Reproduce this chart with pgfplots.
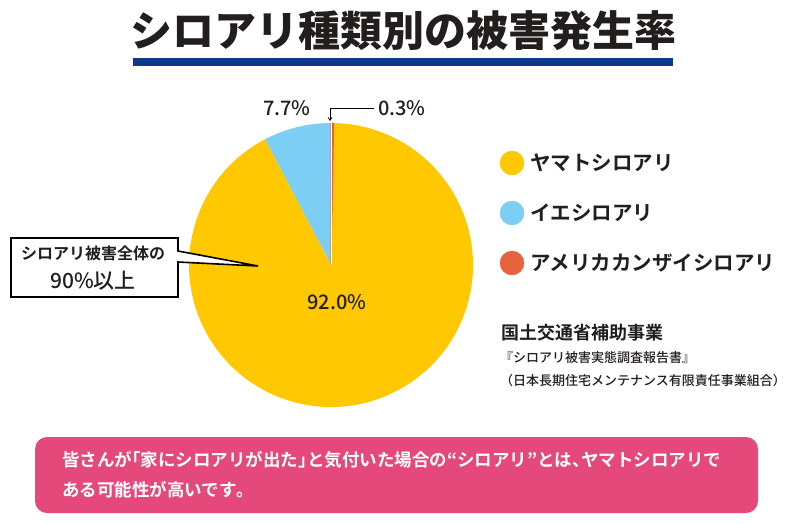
\documentclass[border=0pt]{standalone}
\usepackage{fontspec}
\usepackage{pgfplots}
\pgfplotsset{compat=1.18}
\usepackage{pgfplotstable}
\usetikzlibrary{arrows.meta}
\setmainfont{Noto Sans CJK JP}
\newfontfamily\cjk{Noto Sans CJK JP}
\newfontfamily\cjkm{Noto Sans CJK JP Medium}
\newfontfamily\cjkb{Noto Sans CJK JP Bold}
\newfontfamily\cjkbh{Noto Sans CJK JP Bold}[RawFeature=+halt]
\newfontfamily\cjkk{Noto Sans CJK JP Black}
\definecolor{cyel}{RGB}{255,200,0}
\definecolor{cblu}{RGB}{125,206,245}
\definecolor{cred}{RGB}{232,98,60}
\definecolor{cpink}{RGB}{229,72,122}
\definecolor{cnavy}{RGB}{15,55,140}
\definecolor{ctext}{RGB}{35,30,30}
\pgfplotstableread{
id share
yamato 92.0
ie 7.7
american 0.3
}\piedata
\begin{document}
\begin{tikzpicture}
\useasboundingbox (0,0) rectangle (800pt,523pt);
\pgfplotstablegetelem{0}{share}\of\piedata \let\sy\pgfplotsretval
\pgfplotstablegetelem{1}{share}\of\piedata \let\sb\pgfplotsretval
\pgfplotstablegetelem{2}{share}\of\piedata \let\sr\pgfplotsretval
\pgfmathsetmacro{\aA}{90}
\pgfmathsetmacro{\aB}{90+3.6*\sb}
\pgfmathsetmacro{\aC}{\aB+3.6*\sy}
\pgfmathsetmacro{\aD}{\aC+3.6*\sr}
\begin{axis}[at={(0,0)},anchor=south west,width=800pt,height=523pt,scale only axis,
  xmin=0,xmax=800,ymin=0,ymax=523,y dir=reverse,hide axis,clip=false]
% title
\node[font=\cjkk\fontsize{42pt}{42pt}\selectfont,text=ctext,inner sep=0pt] at (axis cs:403,31) {シロアリ種類別の被害発生率};
\fill[cnavy] (axis cs:133,58) rectangle (axis cs:673,66);
% pie
\fill[cblu] (axis cs:331,265) -- ++(\aA:142pt) arc[start angle=\aA,end angle=\aB,radius=142pt] -- cycle;
\fill[cyel] (axis cs:331,265) -- ++(\aB:142pt) arc[start angle=\aB,end angle=\aC,radius=142pt] -- cycle;
\filldraw[fill=cred,draw=cred,line width=1pt,line join=round] (axis cs:331,265) -- ++(\aC:142pt) arc[start angle=\aC,end angle=\aD,radius=142pt] -- cycle;
\draw[white,line width=0.8pt] (axis cs:331,265) -- ++(\aA:142.6pt);
% labels
\node[font=\cjkm\fontsize{20pt}{20pt}\selectfont,text=ctext] at (axis cs:287,108) {7.7\%};
\node[font=\cjkm\fontsize{20pt}{20pt}\selectfont,text=ctext] at (axis cs:402,108) {0.3\%};
\node[font=\cjkm\fontsize{20pt}{20pt}\selectfont,text=ctext] at (axis cs:337,302) {92.0\%};
\draw[black,line width=0.7pt,-{Straight Barb[length=3pt,width=4pt]}] (axis cs:374,108) -- (axis cs:330,108) -- (axis cs:330,121);
% callout
\filldraw[fill=white,draw=black,line width=1.6pt,line join=miter] (axis cs:11,238) -- (axis cs:178,238) -- (axis cs:178,251) -- (axis cs:258,266) -- (axis cs:178,262) -- (axis cs:178,297) -- (axis cs:11,297) -- cycle;
\node[font=\cjkb\fontsize{16pt}{16pt}\selectfont,text=ctext] at (axis cs:93,253) {シロアリ被害全体の};
\node[font=\cjkm\fontsize{21pt}{21pt}\selectfont,text=ctext] at (axis cs:93,281) {90\%以上};
% legend
\addplot[only marks,mark=*,mark size=12pt,color=cyel] coordinates {(512,163)};
\addplot[only marks,mark=*,mark size=12pt,color=cblu] coordinates {(512,213)};
\addplot[only marks,mark=*,mark size=12pt,color=cred] coordinates {(512,263)};
\node[anchor=west,font=\cjkb\fontsize{20.5pt}{20.5pt}\selectfont,text=ctext,inner sep=0pt] at (axis cs:530,163) {ヤマトシロアリ};
\node[anchor=west,font=\cjkb\fontsize{20.5pt}{20.5pt}\selectfont,text=ctext,inner sep=0pt] at (axis cs:530,213) {イエシロアリ};
\node[anchor=west,font=\cjkb\fontsize{20.5pt}{20.5pt}\selectfont,text=ctext,inner sep=0pt] at (axis cs:530,263) {アメリカカンザイシロアリ};
% source
\node[anchor=west,font=\cjkb\fontsize{18pt}{18pt}\selectfont,text=ctext,inner sep=0pt] at (axis cs:501,333) {国土交通省補助事業};
\node[anchor=west,font=\cjkm\fontsize{13pt}{13pt}\selectfont,text=ctext,inner sep=0pt] at (axis cs:500,358) {『シロアリ被害実態調査報告書』};
\node[anchor=west,font=\cjkm\fontsize{13pt}{13pt}\selectfont,text=ctext,inner sep=0pt] at (axis cs:500,381) {（日本長期住宅メンテナンス有限責任事業組合）};
% bottom box
\fill[cpink,rounded corners=12pt] (axis cs:35,437) rectangle (axis cs:758,513);
\node[anchor=west,font=\cjkb\fontsize{17.5pt}{17.5pt}\selectfont,text=white,inner sep=0pt] at (axis cs:62,460) {皆さんが{\cjkbh 「}家にシロアリが出た{\cjkbh 」}と気付いた場合の“シロアリ”とは{\cjkbh 、}ヤマトシロアリで};
\node[anchor=west,font=\cjkb\fontsize{17.5pt}{17.5pt}\selectfont,text=white,inner sep=0pt] at (axis cs:62,490) {ある可能性が高いです{\cjkbh 。}};
\end{axis}
\end{tikzpicture}
\end{document}
